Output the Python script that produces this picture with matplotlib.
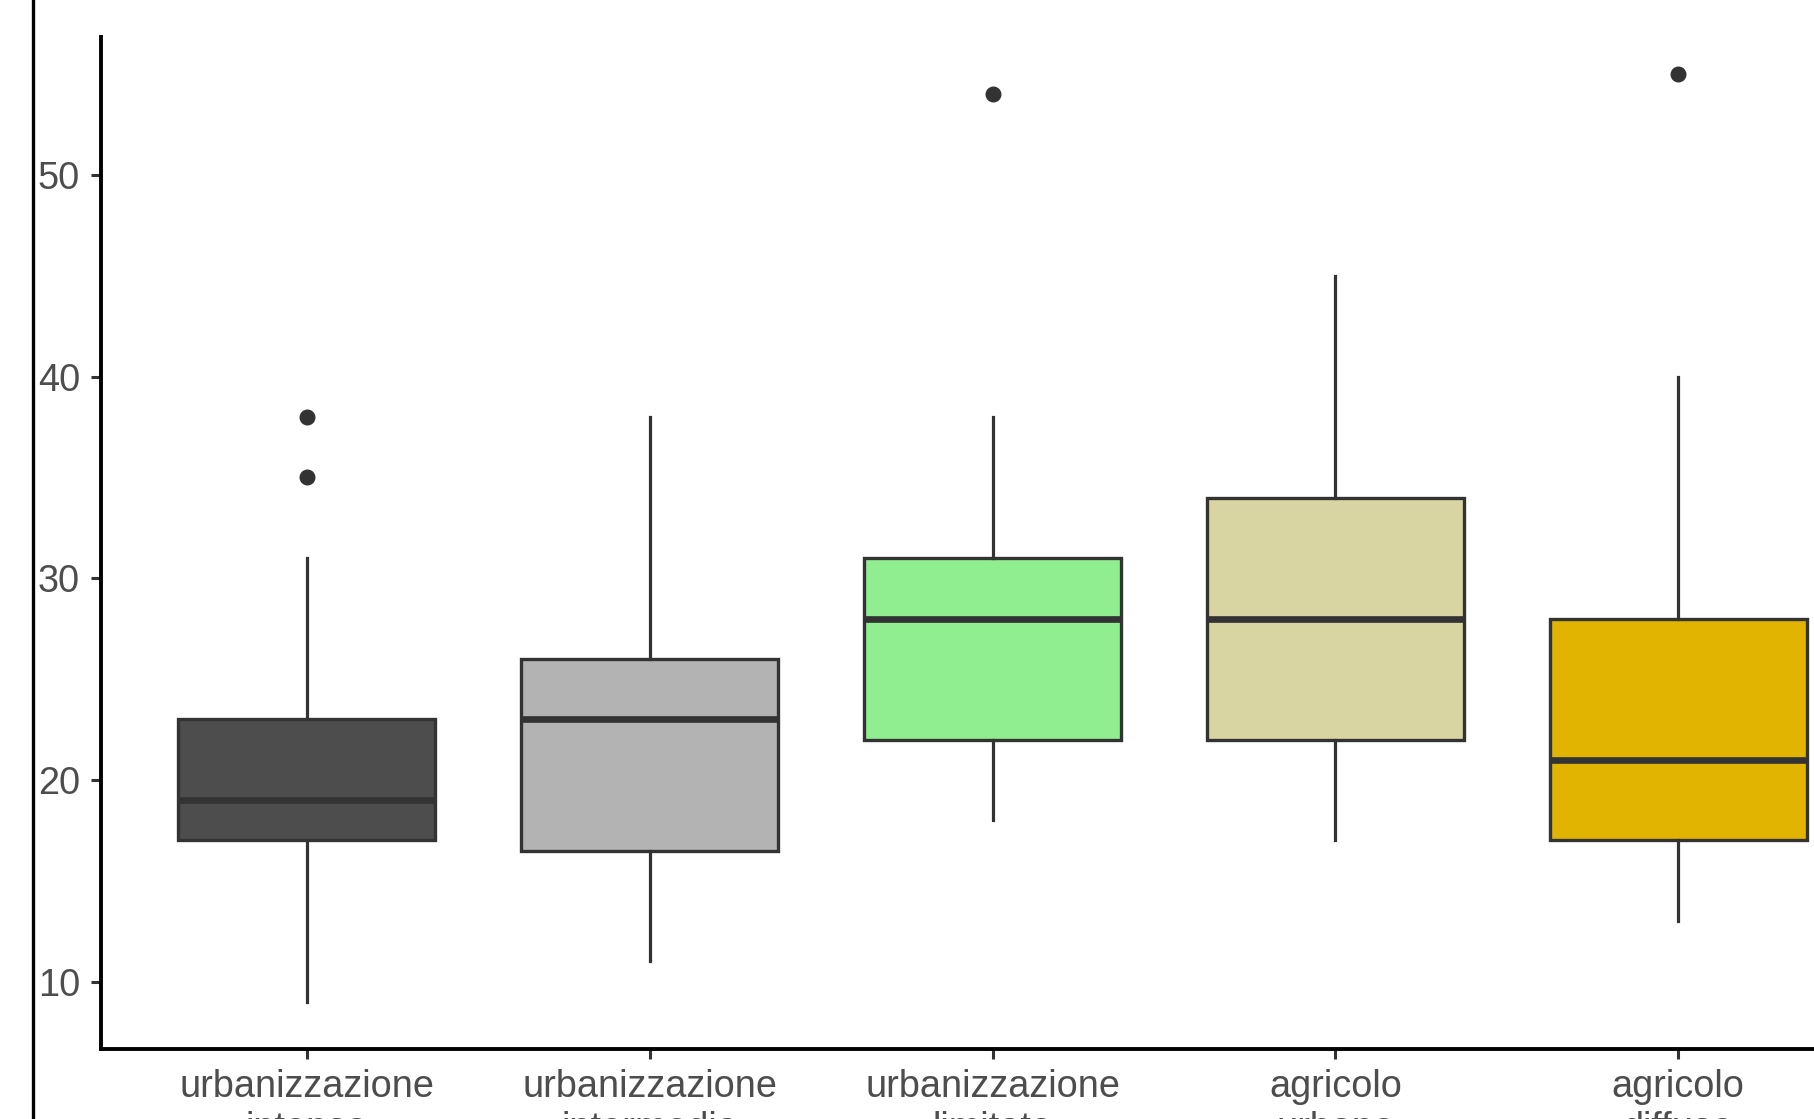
import matplotlib
matplotlib.use("Agg")
import matplotlib.pyplot as plt
from matplotlib.lines import Line2D

plt.rcParams['font.family'] = ['Liberation Sans', 'DejaVu Sans']

# categorie e statistiche dei boxplot
categorie = ['urbanizzazione\nintensa', 'urbanizzazione\nintermedia',
             'urbanizzazione\nlimitata', 'agricolo\nurbano', 'agricolo\ndiffuso']
whisker_low = [9, 11, 18, 17, 13]
q1 = [17, 16.5, 22, 22, 17]
mediana = [19, 23, 28, 28, 21]
q3 = [23, 26, 31, 34, 28]
whisker_high = [31, 38, 38, 45, 40]
outliers = [[35, 38], [], [54], [], [55]]
colori = ['#4D4D4D', '#B3B3B3', '#90EE90', '#D8D5A2', '#E0B400']

yticks = [10, 20, 30, 40, 50]

stats = []
for i, nome in enumerate(categorie):
    stats.append({
        'label': nome,
        'whislo': whisker_low[i],
        'q1': q1[i],
        'med': mediana[i],
        'q3': q3[i],
        'whishi': whisker_high[i],
        'fliers': outliers[i],
    })

W, H = 1815, 1119
fig = plt.figure(figsize=(W / 100, H / 100), dpi=100)
ax = fig.add_axes([101 / W, 70 / H, 1783 / W, 1012 / H])

edge = '#333333'
bp = ax.bxp(stats, positions=range(1, 6), widths=0.75, patch_artist=True,
            showcaps=False,
            boxprops=dict(edgecolor=edge, linewidth=2.4),
            whiskerprops=dict(color=edge, linewidth=2.3),
            medianprops=dict(color=edge, linewidth=4.8, solid_capstyle='butt'),
            flierprops=dict(marker='o', markerfacecolor=edge, markeredgecolor=edge,
                            markersize=10.5, linestyle='none'))
for patch, c in zip(bp['boxes'], colori):
    patch.set_facecolor(c)

ax.set_xlim(0.4, 5.6)
ax.set_ylim(6.66, 56.84)
ax.set_yticks(yticks)
ax.set_xticks(range(1, 6))
ax.set_xticklabels(categorie, linespacing=1.22)

for s in ['top', 'right']:
    ax.spines[s].set_visible(False)
for s in ['left', 'bottom']:
    ax.spines[s].set_linewidth(2.8)
    ax.spines[s].set_color('black')

ax.tick_params(axis='both', labelsize=27.3, labelcolor='#4D4D4D',
               length=7, width=2.2, color='#333333')
ax.tick_params(axis='y', pad=8)
ax.tick_params(axis='x', pad=7.5)

# bordo verticale a sinistra
fig.add_artist(Line2D([33 / W, 33 / W], [0, 1], transform=fig.transFigure,
                      color='black', linewidth=2.4))

fig.savefig('out.png', dpi=100)
